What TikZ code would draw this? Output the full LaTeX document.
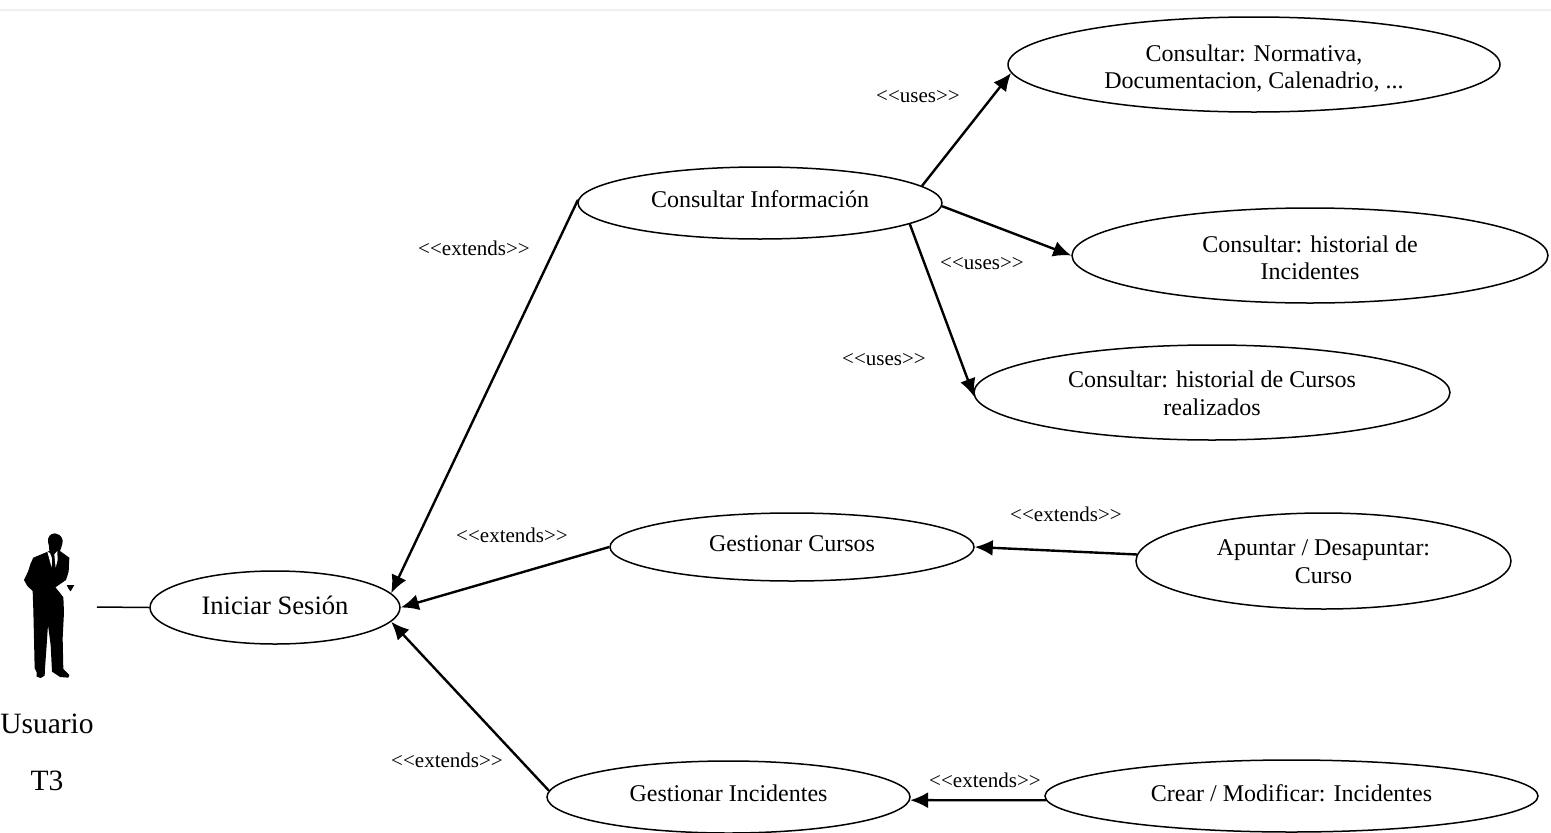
\documentclass[tikz,border=0pt]{standalone}
\usepackage{fontspec}
\setmainfont{Liberation Serif}
\usetikzlibrary{shapes.geometric,arrows.meta}
\newcommand{\nudgetext}[2]{\raisebox{#1}[\height][\depth]{\begin{tabular}{@{}c@{}}#2\end{tabular}}}
\tikzset{
  usecase/.style={draw=black,line width=1.5pt,ellipse,inner sep=0pt,fill=white,font=\fontsize{24}{27.5}\selectfont},
  rel/.style={draw=black,line width=2.4pt,-{Latex[length=18pt,width=16pt]}},
  stereo/.style={font=\fontsize{21}{24}\selectfont,inner sep=0pt},
  actorlabel/.style={font=\fontsize{29.5}{32}\selectfont,inner sep=0pt},
}
\begin{document}
\begin{tikzpicture}[x=1pt,y=-1pt]
\useasboundingbox (0,0) rectangle (1551,833);
\fill[white] (0,0) rectangle (1551,833);
\draw[black!6,line width=1.2pt] (0,10) -- (1551,10);
% use cases
\node[usecase,minimum width=250pt,minimum height=73pt,font=\fontsize{26.6}{27}\selectfont] (ini) at (275,607.5) {\nudgetext{-2pt}{Iniciar Sesión}};
\node[usecase,minimum width=364pt,minimum height=72pt] (info) at (760,203) {\nudgetext{1pt}{Consultar Información}};
\node[usecase,minimum width=492pt,minimum height=95pt] (norm) at (1254,64.5) {\nudgetext{-5pt}{Consultar: Normativa,\\Documentacion, Calenadrio, ...}};
\node[usecase,minimum width=476pt,minimum height=95pt] (hinc) at (1310,255.5) {\nudgetext{-5pt}{Consultar: historial de\\Incidentes}};
\node[usecase,minimum width=476pt,minimum height=95pt] (hcur) at (1212,392.5) {\nudgetext{-3.5pt}{Consultar: historial de Cursos\\realizados}};
\node[usecase,minimum width=364pt,minimum height=68pt] (gcur) at (792,547) {\nudgetext{1pt}{Gestionar Cursos}};
\node[usecase,minimum width=375pt,minimum height=96pt] (apun) at (1323.5,561) {\nudgetext{-3pt}{Apuntar / Desapuntar:\\Curso}};
\node[usecase,minimum width=363pt,minimum height=72pt] (ginc) at (728.5,797) {\nudgetext{1pt}{Gestionar Incidentes}};
\node[usecase,minimum width=493pt,minimum height=72pt] (crea) at (1291.5,796) {\nudgetext{0pt}{Crear / Modificar: Incidentes}};
% connectors
\coordinate (hand) at (97,607);
\draw[line width=1.5pt] (hand) -- (ini.west);
\draw[rel] (info.179) -- (ini.7);
\draw[rel] (gcur.west) -- (ini.east);
\draw[rel] (ginc.178) -- (ini.-7);
\draw[rel] (info.6) -- (norm.182);
\draw[rel] (info.-1.5) -- (hinc.west);
\draw[rel] (info.-8) -- (hcur.181);
\draw[rel] (apun.178) -- (gcur.east);
\draw[rel] (crea.181) -- (ginc.-1);
% stereotype labels
\node[stereo] (l1) at (918,96.5) {<{}<uses>{}>};
\node[stereo] (l2) at (982,263.5) {<{}<uses>{}>};
\node[stereo] (l3) at (884,360) {<{}<uses>{}>};
\node[stereo] (l4) at (474,248) {<{}<extends>{}>};
\node[stereo] (l5) at (512,535) {<{}<extends>{}>};
\node[stereo] (l6) at (1066,514) {<{}<extends>{}>};
\node[stereo] (l7) at (447,760) {<{}<extends>{}>};
\node[stereo] (l8) at (985,780) {<{}<extends>{}>};
% actor silhouette
\begin{scope}[shift={(10,525)},x=0.3333pt,y=-0.3333pt]
\fill[black] (135,25) .. controls (120,25) and (112,38) .. (114,50) .. controls (115,60) and (120,68) .. (118,78)
  -- (70,98) -- (62,115) -- (54,140) -- (42,165) -- (52,183) -- (68,198) -- (70,255) -- (72,340) -- (74,430)
  -- (80,442) -- (80,455) -- (92,459) -- (104,452) -- (105,430) -- (110,360) -- (114,300) -- (122,360) -- (126,440)
  -- (150,456) -- (175,458) -- (178,450) -- (160,432) -- (158,340) -- (162,262) -- (160,215) -- (140,187)
  -- (168,165) -- (176,140) -- (178,98) -- (150,78) .. controls (156,62) and (160,50) .. (157,42) .. controls (153,32) and (145,25) .. (135,25) -- cycle;
\fill[white] (112,80) -- (120,84) -- (126,100) -- (125,128) -- cycle;
\fill[white] (142,78) -- (133,88) -- (137,128) -- (143,105) -- cycle;
\fill[white] (137,187) -- (165,168) -- (193,176) -- (182,208) -- (162,218) -- cycle;
\fill[black] (170,180) -- (193,180) -- (186,192) -- (182,199) -- (176,192) -- cycle;
\end{scope}
% actor labels
\node[actorlabel] (u) at (47,724) {Usuario};
\node[actorlabel] (t) at (47,781) {T3};
\end{tikzpicture}
\end{document}
